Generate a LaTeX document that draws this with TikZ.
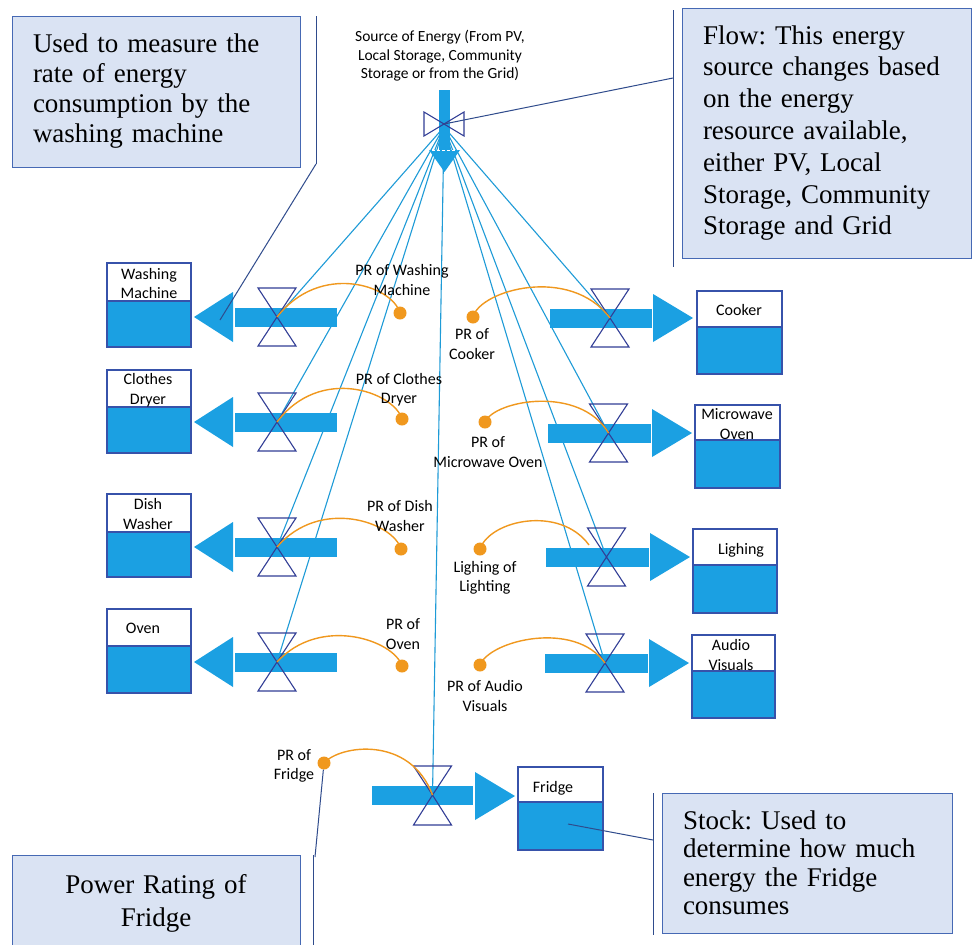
\documentclass[tikz,border=0pt]{standalone}
\usepackage{fontspec}
\setmainfont{Carlito}
\newfontfamily\calloutfont{Liberation Serif}
\frenchspacing
\definecolor{flowblue}{RGB}{27,160,226}
\definecolor{valveblue}{RGB}{50,62,150}
\definecolor{stockedge}{RGB}{55,82,170}
\definecolor{linkblue}{RGB}{30,155,215}
\definecolor{prorange}{RGB}{240,152,30}
\definecolor{calloutfill}{RGB}{218,227,243}
\definecolor{calloutedge}{RGB}{70,105,180}
\definecolor{leaderblue}{RGB}{47,75,140}
\tikzset{
  link/.style={linkblue, line width=1.1pt},
  valvetri/.style={draw=valveblue, line width=1.1pt, line join=miter},
  prarc/.style={prorange, line width=1.4pt},
  prdot/.style={circle, fill=prorange, inner sep=0pt, minimum size=13pt},
  prlabel/.style={align=center, font=\fontsize{16}{19.5}\selectfont, inner sep=0pt},
  stocklabel/.style={align=center, font=\fontsize{16}{19.5}\selectfont, inner sep=0pt},
  calloutbox/.style={draw=calloutedge, fill=calloutfill, line width=1pt, inner ysep=0pt},
  leader/.style={leaderblue, line width=1pt},
}
% left flow: #1 yc
\newcommand{\leftflow}[1]{%
  \fill[flowblue] (235,#1-9.5) rectangle (337,#1+9.5);
  \fill[flowblue] (233,#1-25) -- (194,#1) -- (233,#1+25) -- cycle;
  \draw[valvetri] (258,#1-29) -- (296,#1-29) -- (277,#1) -- cycle;
  \draw[valvetri] (258,#1+29) -- (296,#1+29) -- (277,#1) -- cycle;
}
% right flow: #1 valve x, #2 yc, #3 bar left, #4 bar right
\newcommand{\rightflow}[4]{%
  \fill[flowblue] (#3,#2-9.5) rectangle (#4,#2+9.5);
  \fill[flowblue] (#4+1,#2-24) -- (#4+41,#2) -- (#4+1,#2+24) -- cycle;
  \draw[valvetri] (#1-19,#2-29) -- (#1+19,#2-29) -- (#1,#2) -- cycle;
  \draw[valvetri] (#1-19,#2+29) -- (#1+19,#2+29) -- (#1,#2) -- cycle;
}
% stock: x1 y1 x2 y2 ydiv
\newcommand{\stockbox}[5]{%
  \fill[flowblue] (#1,#5) rectangle (#3,#4);
  \draw[stockedge, line width=1.3pt] (#1,#2) rectangle (#3,#4);
  \draw[stockedge, line width=1.1pt] (#1,#5) -- (#3,#5);
}
\begin{document}
\begin{tikzpicture}[x=1pt, y=-1pt]
\useasboundingbox (0,0) rectangle (972,945);
\clip (0,0) rectangle (972,945);
\fill[white] (0,0) rectangle (972,945);

% ---- coordinates ----
\coordinate (hub) at (444,127);
\coordinate (srcvalve) at (444,124);
\coordinate (vwm) at (277,317);
\coordinate (vcd) at (277,422);
\coordinate (vdw) at (277,547);
\coordinate (vov) at (277,662);
\coordinate (vck) at (610,318);
\coordinate (vmw) at (608.5,433);
\coordinate (vli) at (606.5,557);
\coordinate (vav) at (605,663);
\coordinate (vfr) at (432.5,795);
\coordinate (vliend) at (589,545);
\coordinate (wmtip) at (220,320);
\coordinate (frstock) at (568,824);

% ---- links from source ----
\foreach \v in {vwm,vcd,vdw,vov,vck,vmw,vli,vav,vfr}
  \draw[link] (hub) -- (\v);

% ---- source ----
\node[prlabel, font=\fontsize{15.5}{18.5}\selectfont] (srctext) at (440,56)
  {Source of Energy (From PV,\\Local Storage, Community\\Storage or from the Grid)};
\fill[flowblue] (439,90) rectangle (450,152);
\fill[flowblue] (429,150) -- (460,150) -- (444.5,172) -- cycle;
\draw[white, line width=0.8pt, dash pattern=on 3pt off 2pt] (432,150) -- (457,150);
\draw[valvetri] (424,112) -- (424,136) -- (444,124) -- cycle;
\draw[valvetri] (464,112) -- (464,136) -- (444,124) -- cycle;

% ---- left flows ----
\leftflow{317}
\leftflow{422}
\leftflow{547}
\leftflow{662}

% ---- right flows ----
\rightflow{610}{318}{550}{652}
\rightflow{608.5}{433}{548}{651}
\rightflow{606.5}{557}{546}{649}
\rightflow{605}{663}{545}{648}
% fridge flow
\fill[flowblue] (372,786) rectangle (473,805);
\fill[flowblue] (475,772) -- (515,796) -- (475,820) -- cycle;
\draw[valvetri] (413.5,766) -- (451.5,766) -- (432.5,795) -- cycle;
\draw[valvetri] (413.5,825) -- (451.5,825) -- (432.5,795) -- cycle;

% ---- stocks ----
\stockbox{107}{263}{191}{347}{301}
\stockbox{107}{370}{191}{453}{407}
\stockbox{107}{494}{191}{577}{532}
\stockbox{107}{609}{191}{693}{646}
\stockbox{697}{291}{782}{374}{327}
\stockbox{695}{405}{780}{488}{440}
\stockbox{693}{529}{777}{613}{565}
\stockbox{692}{635}{775}{718}{671}
\stockbox{518}{767}{603}{850}{802}
\node[stocklabel] (swm) at (149,283.5) {Washing\\Machine};
\node[stocklabel] (scd) at (148,390) {Clothes\\Dryer};
\node[stocklabel] (sdw) at (148,514) {Dish\\Washer};
\node[stocklabel] (sov) at (143,628) {Oven};
\node[stocklabel] (sck) at (739,310) {Cooker};
\node[stocklabel] (smw) at (737,424) {Microwave\\Oven};
\node[stocklabel] (sli) at (741,550) {Lighing};
\node[stocklabel] (sav) at (731,655) {Audio\\Visuals};
\node[stocklabel] (sfr) at (553,788) {Fridge};

% ---- PR dots (positions) ----
\coordinate (dwm) at (400,313);
\coordinate (dcd) at (402,419);
\coordinate (ddw) at (401,549);
\coordinate (dov) at (402,666);
\coordinate (dck) at (473,317);
\coordinate (dmw) at (485,422);
\coordinate (dli) at (480,549);
\coordinate (dav) at (480,665);
\coordinate (dfr) at (324,763);

% ---- PR arcs ----
\draw[prarc] (dwm) .. controls (392,285) and (320,262) .. (vwm);
\draw[prarc] (dcd) .. controls (394,392) and (320,365) .. (vcd);
\draw[prarc] (ddw) .. controls (393,522) and (320,497) .. (vdw);
\draw[prarc] (dov) .. controls (394,640) and (320,615) .. (vov);
\draw[prarc] (dck) .. controls (480,290) and (570,265) .. (vck);
\draw[prarc] (dmw) .. controls (495,400) and (580,385) .. (vmw);
\draw[prarc] (dli) .. controls (490,520) and (560,505) .. (vliend);
\draw[prarc] (dav) .. controls (490,640) and (575,620) .. (vav);
\draw[prarc] (dfr) .. controls (340,745) and (410,735) .. (vfr);

% ---- PR dots ----
\node[prdot] (pwm) at (dwm) {};
\node[prdot] (pcd) at (dcd) {};
\node[prdot] (pdw) at (ddw) {};
\node[prdot] (pov) at (dov) {};
\node[prdot] (pck) at (dck) {};
\node[prdot] (pmw) at (dmw) {};
\node[prdot] (pli) at (dli) {};
\node[prdot] (pav) at (dav) {};
\node[prdot] (pfr) at (dfr) {};

% ---- PR labels ----
\node[prlabel] (lwm) at (402,280) {PR of Washing\\Machine};
\node[prlabel] (lcd) at (399,389.5) {PR of Clothes\\Dryer};
\node[prlabel] (ldw) at (400,516) {PR of Dish\\Washer};
\node[prlabel] (lov) at (403,634) {PR of\\Oven};
\node[prlabel] (lck) at (472,344) {PR of\\Cooker};
\node[prlabel] (lmw) at (488,452) {PR of\\Microwave Oven};
\node[prlabel] (lli) at (485,578) {Lighing of\\Lighting};
\node[prlabel] (lav) at (485,696) {PR of Audio\\Visuals};
\node[prlabel] (lfr) at (294,766) {PR of\\Fridge};

% ---- callouts ----
\node[calloutbox, minimum width=288pt, minimum height=151pt, text width=246pt, inner xsep=21pt, align=left,
      font=\calloutfont\fontsize{27}{30}\selectfont] (cwm) at (156,91.5)
  {Used to measure the\\rate of energy\\consumption by the\\washing machine};
\coordinate (cwmbar) at (316,164);
\draw[leader] (316,16) -- (cwmbar);
\draw[leader] (cwmbar) -- (wmtip);

\node[calloutbox, minimum width=289pt, minimum height=250pt, text width=247pt, inner xsep=21pt, align=left,
      font=\calloutfont\fontsize{27}{31.8}\selectfont] (cflow) at (826.5,133)
  {Flow: This energy\\source changes based\\on the energy\\resource available,\\either PV, Local\\Storage, Community\\Storage and Grid};
\coordinate (cflowbar) at (673,78);
\draw[leader] (673,10) -- (673,267);
\draw[leader] (cflowbar) -- (srcvalve);

\node[calloutbox, minimum width=290pt, minimum height=140pt, text width=248pt, inner xsep=21pt, align=left,
      font=\calloutfont\fontsize{27}{28.5}\selectfont] (cstock) at (807,863)
  {Stock: Used to\\determine how much\\energy the Fridge\\consumes};
\coordinate (cstockbar) at (653,840);
\draw[leader] (653,793) -- (653,935);
\draw[leader] (cstockbar) -- (frstock);

\node[calloutbox, minimum width=288pt, minimum height=96pt, text width=246pt, inner xsep=21pt, align=center,
      font=\calloutfont\fontsize{27}{33}\selectfont] (cpow) at (156,903)
  {Power Rating of\\Fridge};
\coordinate (cpowbar) at (315,857);
\draw[leader] (313,855) -- (313,950);
\draw[leader] (cpowbar) -- (pfr);
\end{tikzpicture}
\end{document}
